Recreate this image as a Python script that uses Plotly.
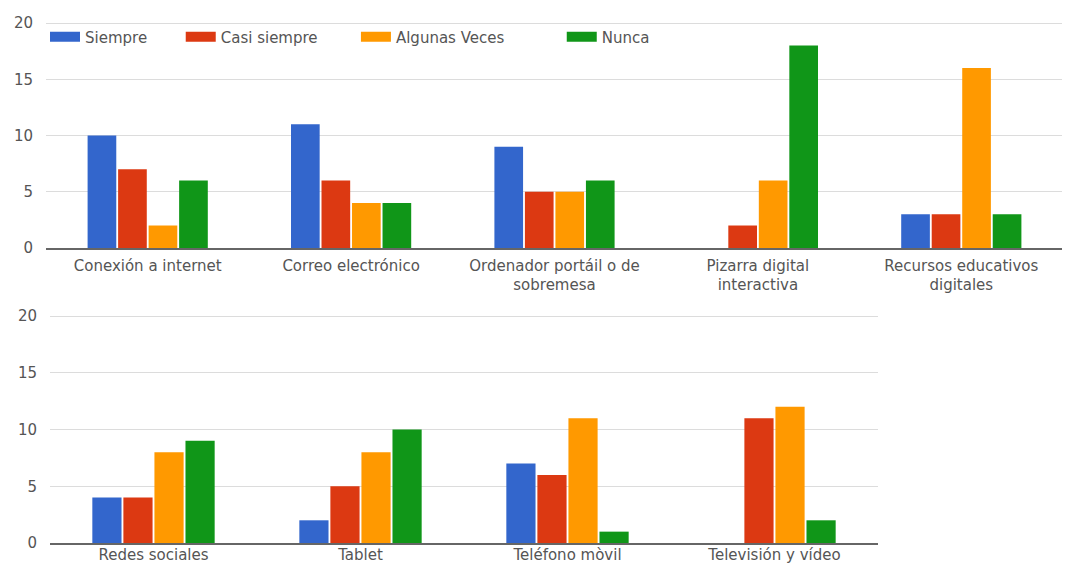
import plotly.graph_objects as go

# ---- data ----
top_categories = ["Conexión a internet", "Correo electrónico",
                  "Ordenador portáil o de<br>sobremesa", "Pizarra digital<br>interactiva",
                  "Recursos educativos<br>digitales"]
bottom_categories = ["Redes sociales", "Tablet", "Teléfono mòvil", "Televisión y vídeo"]
series_names = ["Siempre", "Casi siempre", "Algunas Veces", "Nunca"]

top_siempre = [10, 11, 9, 0, 3]
top_casi_siempre = [7, 6, 5, 2, 3]
top_algunas_veces = [2, 4, 5, 6, 16]
top_nunca = [6, 4, 6, 18, 3]

bottom_siempre = [4, 2, 7, 0]
bottom_casi_siempre = [4, 5, 6, 11]
bottom_algunas_veces = [8, 8, 11, 12]
bottom_nunca = [9, 10, 1, 2]

y_ticks = [0, 5, 10, 15, 20]

# ---- styling ----
colors = ["#3366cc", "#dc3912", "#ff9900", "#109618"]
legend_pad = [6, 7, 11, 0]
FONT = "DejaVu Sans"
TXT = "#555555"
W, H = 1070, 565
OFF = 8  # page body margin

fig = go.Figure()

top_series = [top_siempre, top_casi_siempre, top_algunas_veces, top_nunca]
bottom_series = [bottom_siempre, bottom_casi_siempre, bottom_algunas_veces, bottom_nunca]

for name, vals, col in zip(series_names, top_series, colors):
    fig.add_trace(go.Bar(x=top_categories, y=vals, name=name, marker_color=col,
                         marker_line_width=0, showlegend=False, xaxis="x", yaxis="y"))
for name, vals, col in zip(series_names, bottom_series, colors):
    fig.add_trace(go.Bar(x=bottom_categories, y=vals, name=name, marker_color=col,
                         marker_line_width=0, showlegend=False, xaxis="x2", yaxis="y2"))

# legend entries drawn as thick line swatches
for name, col, p in zip(series_names, colors, legend_pad):
    fig.add_trace(go.Scatter(x=[None], y=[None], mode="lines", name=name + "\u00a0" * p,
                             line=dict(color=col, width=12), xaxis="x", yaxis="y",
                             showlegend=True, hoverinfo="skip"))

def px_x(p):
    return (p - OFF) / W

def px_y(p):
    return 1 - (p - OFF) / H

YTOP = 20.1

xcommon = dict(type="category", showgrid=False, showline=True, linecolor="#666666",
               linewidth=1.5, ticks="outside", tickcolor="rgba(0,0,0,0)",
               tickfont=dict(family=FONT, size=15, color=TXT), zeroline=False,
               automargin=False)
ycommon = dict(range=[0, YTOP], tickvals=y_ticks, showgrid=True, gridcolor="#dcdcdc",
               gridwidth=1, zeroline=False, showline=False, ticks="outside", ticklen=9,
               tickcolor="rgba(0,0,0,0)", tickfont=dict(family=FONT, size=15, color=TXT),
               automargin=False)

fig.update_layout(
    width=W, height=H,
    margin=dict(l=0, r=0, t=0, b=0, autoexpand=False),
    paper_bgcolor="white", plot_bgcolor="white",
    barmode="group", bargap=0.4, bargroupgap=0.06,
    xaxis=dict(domain=[px_x(46), px_x(1063)], anchor="y", ticklen=3, **xcommon),
    yaxis=dict(domain=[px_y(248), px_y(248 - YTOP * 11.25)], anchor="x", **ycommon),
    xaxis2=dict(domain=[px_x(50), px_x(878)], anchor="y2", ticklen=0,
                ticklabelstandoff=-3, **xcommon),
    yaxis2=dict(domain=[px_y(543), px_y(543 - YTOP * 11.35)], anchor="x2", **ycommon),
    legend=dict(orientation="h", x=px_x(45), xanchor="left", y=px_y(37), yanchor="middle",
                font=dict(family=FONT, size=15, color=TXT), bgcolor="rgba(0,0,0,0)",
                itemclick=False),
    font=dict(family=FONT, color=TXT),
    showlegend=True,
)

fig.write_html("out.html")
